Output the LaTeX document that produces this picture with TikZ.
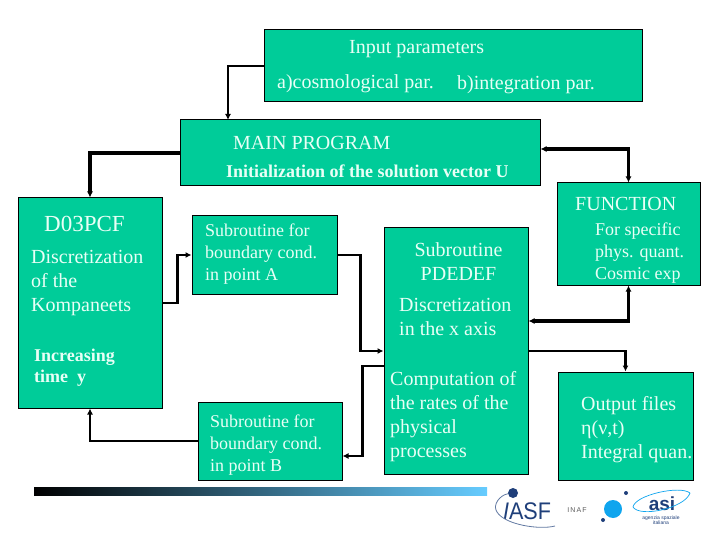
\documentclass[tikz,border=0pt]{standalone}
\usepackage{fontspec}
\setmainfont{Liberation Serif}
\setsansfont{Liberation Sans}
\usetikzlibrary{arrows.meta, calc}
\definecolor{boxgreen}{HTML}{00CC99}
\definecolor{boxtext}{HTML}{E8FFF6}
\definecolor{barblue}{HTML}{66CCFF}
\definecolor{logoblue}{HTML}{1F3F7A}
\definecolor{logocyan}{HTML}{0FA5EE}
\tikzset{
  pgbox/.style   = {draw=black, line width=1pt, fill=boxgreen, inner sep=0pt},
  pgtext/.style  = {font=\fontsize{20}{24}\selectfont, text=boxtext, align=left, inner sep=0pt},
  pgsmall/.style = {font=\fontsize{18}{21.8}\selectfont, text=boxtext, align=left, inner sep=0pt},
  pgbold/.style  = {font=\fontsize{18}{21}\selectfont\bfseries, text=boxtext, align=left, inner sep=0pt},
  pggo/.style    = {-{Latex[length=6pt,width=6pt]}, draw=black, line width=2.2pt},
  pgfat/.style   = {-{Latex[length=6pt,width=6pt]}, draw=black, line width=4pt},
  pgboth/.style  = {{Latex[length=6pt,width=6pt]}-{Latex[length=6pt,width=6pt]}, draw=black, line width=3.5pt},
}
\begin{document}
\begin{tikzpicture}[x=1pt,y=-1pt]
\useasboundingbox (0,0) rectangle (720,540);

\node[pgbox, minimum width=378pt, minimum height=72pt] (input) at (453,66) {};
\node[pgbox, minimum width=360pt, minimum height=66pt] (main) at (360,153) {};
\node[pgbox, minimum width=144pt, minimum height=210pt] (dpcf) at (90,303) {};
\node[pgbox, minimum width=145pt, minimum height=78pt] (suba) at (264.5,255) {};
\node[pgbox, minimum width=144pt, minimum height=78pt] (subb) at (270,441) {};
\node[pgbox, minimum width=144pt, minimum height=246pt] (pdef) at (456,351) {};
\node[pgbox, minimum width=143pt, minimum height=102pt] (func) at (628.5,234) {};
\node[pgbox, minimum width=135pt, minimum height=108pt] (outp) at (625.5,426) {};
\coordinate (mainin) at (228,120);

\node[pgtext, anchor=west] (inpa) at (349,49) {Input parameters};
\node[pgtext, anchor=west] (inpb) at (277,84) {a)cosmological par.};
\node[pgtext, anchor=west] (inpc) at (457,85) {b)integration par.};
\node[pgtext, anchor=west] (maina) at (233,143) {MAIN PROGRAM};
\node[pgbold, anchor=west] (mainb) at (226,171) {Initialization of the solution vector U};

\node[pgtext, anchor=west, font=\fontsize{23}{24}\selectfont] (dpa) at (44,224) {D03PCF};
\node[pgtext, anchor=north west] (dpb) at (31,250) {Discretization\\of the\\Kompaneets};
\node[pgbold, anchor=north west] (dpc) at (34,349) {Increasing\\time\ \ y};

\node[pgsmall, anchor=north west] (saa) at (205,224) {Subroutine for\\boundary cond.\\in point A};
\node[pgsmall, anchor=north west] (sba) at (210,415) {Subroutine for\\boundary cond.\\in point B};

\node[pgtext, align=center, anchor=north] (pda) at (458.5,242) {Subroutine\\PDEDEF};
\node[pgtext, anchor=north west] (pdb) at (399,298) {Discretization\\in the x axis};
\node[pgtext, anchor=north west] (pdc) at (390,371) {Computation of\\the rates of the\\physical\\processes};

\node[pgtext, anchor=west] (fna) at (575,204) {FUNCTION};
\node[pgsmall, anchor=north west] (fnb) at (595,223) {For specific\\phys. quant.\\Cosmic exp};
\node[pgtext, anchor=north west] (opa) at (581,396) {Output files\\η(ν,t)\\Integral quan.};

\draw[pggo] (input.west) -| (mainin);
\draw[pgfat] (main.west) -| (dpcf.north);
\draw[pgboth] ($(main.east)+(0,-4)$) -| (func.north);
\draw[pggo] (dpcf.east) -- ++(15,0) |- (suba.west);
\draw[pggo] (suba.east) -- ++(23,0) |- (pdef.west);
\draw[pggo] ($(pdef.west)+(0,15)$) -- ++(-21,0) |- ($(subb.east)+(0,15)$);
\draw[pggo] (subb.west) -| (dpcf.south);
\draw[pgboth] ($(pdef.east)+(0,-30)$) -| (func.south);
\draw[pggo] (pdef.east) -| (outp.north);

\node[minimum width=453pt, minimum height=8pt, inner sep=0pt, left color=black, right color=barblue] (bar) at (260.5,491) {};

% logos
\node[font=\sffamily\fontsize{24}{24}\selectfont, text=logoblue, inner sep=0pt, xscale=0.9] (iasf) at (527,511) {{\itshape I}ASF};
\node[circle, fill=logoblue, minimum size=10pt, inner sep=0pt] (iasfdot) at (513,493) {};
\draw[logoblue!70, line width=0.8pt] (iasfdot) .. controls (500,495) and (492,505) .. (497,512);
\draw[logoblue!70, line width=0.8pt] (497,512) .. controls (505,525) and (540,530) .. (555,526);
\node[font=\sffamily\fontsize{7}{7}\selectfont, text=black!65, inner sep=0pt] (inaf) at (577,510) {I\,N\,A\,F};
\node[circle, fill=logocyan, minimum size=18pt, inner sep=0pt] (inafdot) at (613,509) {};
\node[circle, fill=logoblue, minimum size=4pt, inner sep=0pt] (inafa) at (626,493) {};
\node[circle, fill=logoblue, minimum size=4pt, inner sep=0pt] (inafb) at (603,520) {};
\node[font=\sffamily\bfseries\fontsize{19}{19}\selectfont, text=logoblue, inner sep=0pt] (asi) at (662,504) {asi};
\node[font=\sffamily\fontsize{5}{5.5}\selectfont, text=logoblue, align=center, inner sep=0pt] (asitxt) at (661,520) {agenzia spaziale\\italiana};
\draw[logocyan, line width=0.7pt] (633,507) .. controls (635,495) and (680,485) .. (690,493);
\draw[logocyan, line width=0.7pt] (633,507) .. controls (640,518) and (685,508) .. (690,493);
\end{tikzpicture}
\end{document}
